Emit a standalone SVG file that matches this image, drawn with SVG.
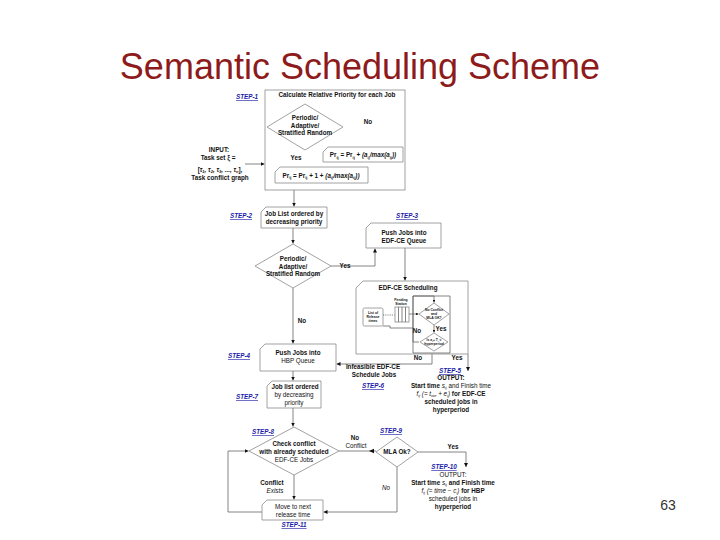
<svg xmlns="http://www.w3.org/2000/svg" width="720" height="540" viewBox="0 0 720 540">
<style>
.t{font-family:"Liberation Sans",Arial,sans-serif;font-size:6.3px;fill:#111;text-anchor:middle}
.b{font-weight:bold}
.i{font-style:italic}
.s{font-family:"Liberation Sans",Arial,sans-serif;font-size:6.3px;font-weight:bold;font-style:italic;fill:#1c1ca8;text-decoration:underline;text-anchor:middle}
.box{fill:#fff;stroke:#8a8a8a;stroke-width:0.8}
.c{fill:none;stroke:#666;stroke-width:0.8}
.tiny{font-size:3.4px}
.sub{font-size:4px}
</style>
<defs>
<marker id="a" viewBox="0 0 6 6" refX="6" refY="3" markerWidth="4" markerHeight="4" orient="auto" markerUnits="userSpaceOnUse"><path d="M0,0 L6,3 L0,6 Z" fill="#111"/></marker>
<marker id="m" viewBox="0 0 6 6" refX="6" refY="3" markerWidth="2.5" markerHeight="2.5" orient="auto" markerUnits="userSpaceOnUse"><path d="M0,0 L6,3 L0,6 Z" fill="#111"/></marker>
</defs>
<rect width="720" height="540" fill="#fff"/>
<text x="360" y="79" font-family="'Liberation Sans',Arial,sans-serif" font-size="36" fill="#8e1b1b" text-anchor="middle">Semantic Scheduling Scheme</text>
<text x="668" y="510" font-family="'Liberation Sans',Arial,sans-serif" font-size="14" fill="#333" text-anchor="middle">63</text>

<g id="connectors">
<path class="c" d="M343,127 H363 V146" marker-end="url(#a)"/>
<path class="c" d="M305,150 V166.5" marker-end="url(#a)"/>
<path class="c" d="M245,164 H264.5" marker-end="url(#a)"/>
<path class="c" d="M294,190 V206.5" marker-end="url(#a)"/>
<path class="c" d="M293,228 V243.5" marker-end="url(#a)"/>
<path class="c" d="M331,266 H375 V248.5" marker-end="url(#a)"/>
<path class="c" d="M405,248 V280.5" marker-end="url(#a)"/>
<path class="c" d="M293,288 V343.5" marker-end="url(#a)"/>
<path class="c" d="M432,353 V364 H336.5" marker-end="url(#a)"/>
<path class="c" d="M468,354 V371" marker-end="url(#a)"/>
<path class="c" d="M293,371 V380.5" marker-end="url(#a)"/>
<path class="c" d="M293,408 V426.5" marker-end="url(#a)"/>
<path class="c" d="M339,451 H376"/>
<polygon points="369,451 374,448.8 374,453.2" fill="#111"/>
<path class="c" d="M418,452 H466 V467" marker-end="url(#a)"/>
<path class="c" d="M397,467 V512 H323.5" marker-end="url(#a)"/>
<path class="c" d="M294,475 V499.5" marker-end="url(#a)"/>
<path class="c" d="M262,512 H228 V451 H248.5" marker-end="url(#a)"/>
</g>

<g id="step1">
<rect class="box" x="265" y="90" width="140" height="100"/>
<text class="s" x="247" y="99">STEP-1</text>
<text class="t b" x="337" y="97">Calculate Relative Priority for each Job</text>
<text class="t b" x="368" y="124">No</text>
<text class="t b" x="296" y="160">Yes</text>
</g>
<g id="decision1">
<polygon class="box" points="305,104 343,127 305,150 267,127"/>
<text class="t b" x="305" y="120">Periodic/</text>
<text class="t b" x="305" y="127.5">Adaptive/</text>
<text class="t b" x="305" y="135">Stratified Random</text>
</g>
<g id="pr1">
<path class="box" d="M323,152 L328,147 H403 V162 H323 Z"/>
<text class="t b" x="363" y="157">Pr<tspan class="sub" dy="1.5">ij</tspan><tspan dy="-1.5"> = Pr</tspan><tspan class="sub" dy="1.5">ij</tspan><tspan dy="-1.5"> + </tspan><tspan class="i">(a</tspan><tspan class="sub i" dy="1.5">ij</tspan><tspan class="i" dy="-1.5">/max(a</tspan><tspan class="sub i" dy="1.5">ij</tspan><tspan class="i" dy="-1.5">))</tspan></text>
</g>
<g id="pr2">
<path class="box" d="M275,172 L280,167 H368 V183 H275 Z"/>
<text class="t b" x="321" y="177.5">Pr<tspan class="sub" dy="1.5">ij</tspan><tspan dy="-1.5"> = Pr</tspan><tspan class="sub" dy="1.5">ij</tspan><tspan dy="-1.5"> + 1 + </tspan><tspan class="i">(a</tspan><tspan class="sub i" dy="1.5">ij</tspan><tspan class="i" dy="-1.5">/max(a</tspan><tspan class="sub i" dy="1.5">ij</tspan><tspan class="i" dy="-1.5">))</tspan></text>
</g>
<g id="input">
<text class="t b" x="219" y="152">INPUT:</text>
<text class="t b" x="218" y="160">Task set ξ =</text>
<text class="t b" x="220" y="172">[<tspan class="i">τ</tspan><tspan class="sub i" dy="1.2">1</tspan><tspan class="i" dy="-1.2">, τ</tspan><tspan class="sub i" dy="1.2">2</tspan><tspan class="i" dy="-1.2">, τ</tspan><tspan class="sub i" dy="1.2">3</tspan><tspan class="i" dy="-1.2">, ..., τ</tspan><tspan class="sub i" dy="1.2">n</tspan><tspan dy="-1.2">],</tspan></text>
<text class="t b" x="220" y="180">Task conflict graph</text>
</g>

<g id="step2">
<text class="s" x="241" y="218">STEP-2</text>
<path class="box" d="M261,212 L266,207 H327 V228 H261 Z"/>
<text class="t b" x="294" y="216">Job List ordered by</text>
<text class="t b" x="294" y="224">decreasing priority</text>
</g>
<g id="decision2">
<polygon class="box" points="293,244 331,266 293,288 255,266"/>
<text class="t b" x="293" y="261">Periodic/</text>
<text class="t b" x="293" y="268.5">Adaptive/</text>
<text class="t b" x="293" y="276">Stratified Random</text>
<text class="t b" x="345" y="268">Yes</text>
<text class="t b" x="302" y="323">No</text>
</g>
<g id="step3">
<text class="s" x="407" y="218">STEP-3</text>
<path class="box" d="M366,228 L371,223 H441 V248 H366 Z"/>
<text class="t b" x="404" y="235">Push Jobs into</text>
<text class="t b" x="404" y="243">EDF-CE Queue</text>
</g>
<g id="edfce">
<path class="box" d="M356,288 L363,281 H468 V354 H356 Z"/>
<text class="t b" x="408" y="290" font-size="7">EDF-CE Scheduling</text>
<rect class="box" x="363" y="308" width="20" height="18" rx="1.5"/>
<text class="t b tiny" x="373" y="314">List of</text>
<text class="t b tiny" x="373" y="318">Release</text>
<text class="t b tiny" x="373" y="322">times</text>
<text class="t b tiny" x="401" y="301">Pending</text>
<text class="t b tiny" x="401" y="305">Station</text>
<rect class="box" x="395" y="307" width="14" height="15"/>
<path class="c" d="M398.5,307 V322 M402,307 V322 M405.5,307 V322"/>
<path class="c" d="M383,315 H394.5" stroke-dasharray="1.2,1"/>
<path class="c" d="M419,342 H413 V296 H434 V302.5" marker-end="url(#m)"/>
<path class="c" d="M413,328 H390 V326 H383"/>
<path class="c" d="M409,314 H418.5" marker-end="url(#m)"/>
<path class="c" d="M413,296 V353 H450 V296 Z"/>
<polygon class="box" points="434,303 449,314 434,325 419,314"/>
<text class="t b tiny" x="434" y="311">No Conflict</text>
<text class="t b tiny" x="434" y="315">and</text>
<text class="t b tiny" x="434" y="319">MLA OK?</text>
<path class="c" d="M434,325 V332.5" marker-end="url(#m)"/>
<text class="t b" x="441" y="331" font-size="4">Yes</text>
<text class="t b" x="417" y="333" font-size="4">No</text>
<polygon class="box" points="434,333 448,342 434,351 420,342"/>
<text class="t b tiny" x="434" y="341">Is a<tspan font-size="2.5" dy="0.8">i</tspan><tspan dy="-0.8">+ T</tspan><tspan font-size="2.5" dy="0.8">i</tspan><tspan dy="-0.8"> ≤</tspan></text>
<text class="t b tiny" x="434" y="345">hyperperiod</text>
<text class="t b" x="418" y="360">No</text>
<text class="t b" x="457" y="360">Yes</text>
</g>
<g id="infeasible">
<text class="t b" x="373" y="369">Infeasible EDF-CE</text>
<text class="t b" x="374" y="377">Schedule Jobs</text>
<text class="s" x="373" y="388">STEP-6</text>
</g>
<g id="step5">
<text class="s" x="450" y="373">STEP-5</text>
<text class="t b" x="451" y="380">OUTPUT:</text>
<text class="t" x="451" y="388"><tspan class="b">Start time </tspan><tspan class="i">s</tspan><tspan class="sub i" dy="1.2">ij</tspan><tspan dy="-1.2"> and Finish time</tspan></text>
<text class="t" x="451" y="396"><tspan class="i">f</tspan><tspan class="sub i" dy="1.2">ij</tspan><tspan class="i" dy="-1.2"> (= t</tspan><tspan class="sub i" dy="1.2">ioe</tspan><tspan class="i" dy="-1.2"> + e</tspan><tspan class="sub i" dy="1.2">i</tspan><tspan class="i" dy="-1.2">)</tspan><tspan class="b"> for EDF-CE</tspan></text>
<text class="t b" x="451" y="404">scheduled jobs in</text>
<text class="t b" x="451" y="412">hyperperiod</text>
</g>
<g id="step4">
<text class="s" x="239" y="358">STEP-4</text>
<path class="box" d="M260,349 L265,344 H336 V371 H260 Z"/>
<text class="t b" x="298" y="355">Push Jobs into</text>
<text class="t" x="298" y="363">HBP Queue</text>
</g>
<g id="step7">
<text class="s" x="247" y="399">STEP-7</text>
<path class="box" d="M267,386 L272,381 H321 V408 H267 Z"/>
<text class="t b" x="295" y="389">Job list ordered</text>
<text class="t" x="294" y="397">by decreasing</text>
<text class="t" x="294" y="405">priority</text>
</g>
<g id="step8">
<text class="s" x="263" y="434">STEP-8</text>
<polygon class="box" points="294,427 339,451 294,475 249,451"/>
<text class="t b" x="294" y="446">Check conflict</text>
<text class="t b" x="294" y="454">with already scheduled</text>
<text class="t" x="294" y="462">EDF-CE Jobs</text>
<text class="t b" x="355" y="440">No</text>
<text class="t" x="356" y="448">Conflict</text>
<text class="t b" x="272" y="485">Conflict</text>
<text class="t i" x="275" y="493">Exists</text>
</g>
<g id="step9">
<text class="s" x="391" y="433">STEP-9</text>
<polygon class="box" points="397,437 418,452 397,467 376,452"/>
<text class="t b" x="397" y="454">MLA Ok?</text>
<text class="t b" x="453" y="449">Yes</text>
<text class="t i" x="386" y="490">No</text>
</g>
<g id="step10">
<text class="s" x="444" y="469">STEP-10</text>
<text class="t" x="453" y="477">OUTPUT:</text>
<text class="t" x="453" y="485"><tspan class="b">Start time </tspan><tspan class="i">s</tspan><tspan class="sub i" dy="1.2">ij</tspan><tspan class="b" dy="-1.2"> and Finish time</tspan></text>
<text class="t" x="453" y="493"><tspan class="i">f</tspan><tspan class="sub i" dy="1.2">ij</tspan><tspan class="i" dy="-1.2"> (= time − c</tspan><tspan class="sub i" dy="1.2">i</tspan><tspan class="i" dy="-1.2">)</tspan><tspan class="b"> for HBP</tspan></text>
<text class="t" x="453" y="501">scheduled jobs in</text>
<text class="t b" x="453" y="509">hyperperiod</text>
</g>
<g id="step11">
<path class="box" d="M262,505 L267,500 H323 V520 H262 Z"/>
<text class="t" x="293" y="508.5">Move to next</text>
<text class="t" x="293" y="516.5">release time</text>
<text class="s" x="294" y="527">STEP-11</text>
</g>
</svg>
